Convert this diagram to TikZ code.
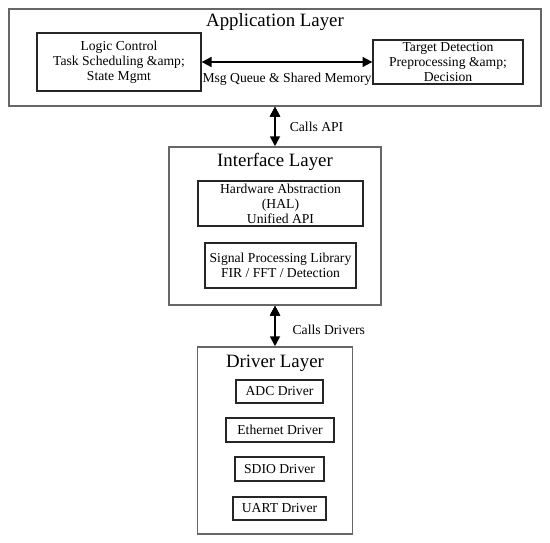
\documentclass[tikz,border=0pt]{standalone}
\usepackage{fontspec}
\setmainfont{Liberation Serif}
\usetikzlibrary{arrows.meta}
\begin{document}
\begin{tikzpicture}[x=0.025cm, y=-0.025cm,
  layer box/.style={rectangle,draw=black!60,line width=1.1pt,inner sep=0pt},
  layer title/.style={font=\fontsize{13.4}{16}\selectfont},
  part box/.style={rectangle,draw=black!85,line width=0.9pt,inner sep=0pt,align=center,font=\fontsize{9.7}{10.7}\selectfont},
  link/.style={{Triangle[length=7pt,width=7pt]}-{Triangle[length=7pt,width=7pt]},line width=1.4pt},
  link label/.style={font=\fontsize{9.7}{11}\selectfont}]
\useasboundingbox (0,0) rectangle (550,543);
% layers
\node[layer box,minimum width=13.3cm,minimum height=2.425cm] (app) at (275,57.5) {};
\node[layer box,minimum width=5.3cm,minimum height=3.95cm] (iface) at (275,226) {};
\node[layer box,minimum width=3.875cm,minimum height=4.675cm] (drv) at (275,440.5) {};
\node[layer title] (appt) at (275,22) {Application Layer};
\node[layer title] (ifacet) at (275,162) {Interface Layer};
\node[layer title] (drvt) at (275,363) {Driver Layer};
% application layer
\node[part box,minimum width=4.1cm,minimum height=1.45cm] (logic) at (119,62) {Logic Control\\Task Scheduling \&amp;\\State Mgmt};
\node[part box,minimum width=3.75cm,minimum height=1.1cm] (target) at (448,62) {Target Detection\\Preprocessing \&amp;\\Decision};
% interface layer
\node[part box,minimum width=4.125cm,minimum height=1.125cm] (hal) at (280.5,203.5) {Hardware Abstraction\\(HAL)\\Unified API};
\node[part box,minimum width=3.775cm,minimum height=1.125cm] (dsp) at (280.5,265.5) {Signal Processing Library\\FIR / FFT / Detection};
% driver layer
\node[part box,minimum width=2.175cm,minimum height=0.575cm] (adc) at (279.5,391.5) {ADC Driver};
\node[part box,minimum width=2.7cm,minimum height=0.6cm] (eth) at (280,430) {Ethernet Driver};
\node[part box,minimum width=2.225cm,minimum height=0.6cm] (sdio) at (279.5,469) {SDIO Driver};
\node[part box,minimum width=2.325cm,minimum height=0.575cm] (uart) at (279.5,508.5) {UART Driver};
% links
\draw[link] (logic) edge node[link label,below=3.5pt] (msg) {Msg Queue \& Shared Memory} (target);
\draw[link] (app.south) edge node[link label,right=6.5pt] (api) {Calls API} (iface.north);
\draw[link] (iface.south) edge node[link label,right=8.5pt,pos=0.6] (calls) {Calls Drivers} (drv.north);
\end{tikzpicture}
\end{document}
